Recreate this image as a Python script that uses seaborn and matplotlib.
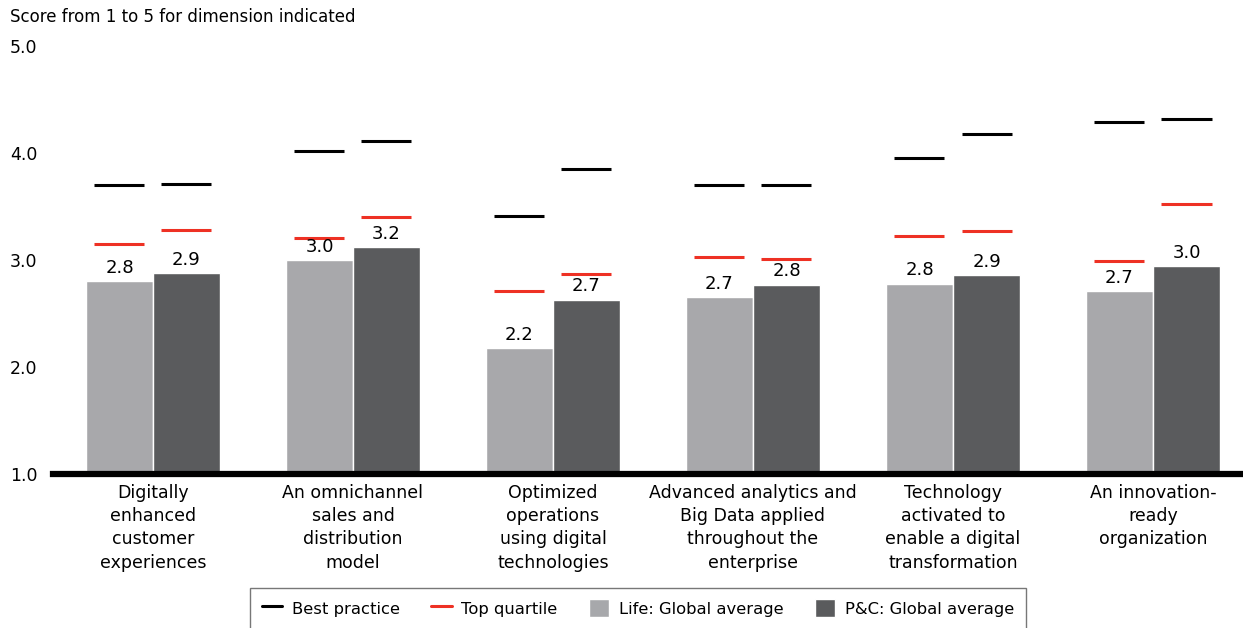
import numpy as np
import pandas as pd
import seaborn as sns
import matplotlib.pyplot as plt
from matplotlib.lines import Line2D
from matplotlib.patches import Patch

# data
categories = [
    "Digitally\nenhanced\ncustomer\nexperiences",
    "An omnichannel\nsales and\ndistribution\nmodel",
    "Optimized\noperations\nusing digital\ntechnologies",
    "Advanced analytics and\nBig Data applied\nthroughout the\nenterprise",
    "Technology\nactivated to\nenable a digital\ntransformation",
    "An innovation-\nready\norganization",
]
life_avg = [2.80, 3.00, 2.18, 2.65, 2.78, 2.71]
pc_avg = [2.88, 3.12, 2.63, 2.77, 2.86, 2.94]
life_labels = ["2.8", "3.0", "2.2", "2.7", "2.8", "2.7"]
pc_labels = ["2.9", "3.2", "2.7", "2.8", "2.9", "3.0"]
life_best = [3.70, 4.02, 3.41, 3.70, 3.95, 4.29]
pc_best = [3.71, 4.11, 3.85, 3.70, 4.18, 4.32]
life_top = [3.15, 3.21, 2.71, 3.03, 3.22, 2.99]
pc_top = [3.28, 3.40, 2.87, 3.01, 3.27, 3.52]
yticks = [1.0, 2.0, 3.0, 4.0, 5.0]

life_color = "#a7a8ab"
pc_color = "#5a5b5d"
red = "#ee3124"

df = pd.DataFrame({
    "category": categories * 2,
    "segment": ["Life: Global average"] * 6 + ["P&C: Global average"] * 6,
    "score": life_avg + pc_avg,
})

sns.set_style("white", {"text.color": "black", "xtick.color": "black",
                        "ytick.color": "black"})
plt.rcParams["font.family"] = ["DejaVu Sans"]

fig = plt.figure(figsize=(12.43, 6.28), dpi=100)
ax = fig.add_axes([53 / 1243, 154 / 628, 1 - 53 / 1243, 428 / 628])

sns.barplot(data=df, x="category", y="score", hue="segment",
            palette=[life_color, pc_color], width=0.67,
            edgecolor="white", linewidth=1, legend=False, ax=ax)

# value labels and best practice / top quartile marks on each bar
for container, labels, best, top in zip(ax.containers, [life_labels, pc_labels],
                                        [life_best, pc_best], [life_top, pc_top]):
    ax.bar_label(container, labels=labels, padding=3, fontsize=13, color="black")
    for bar, b, t in zip(container, best, top):
        cx = bar.get_x() + bar.get_width() / 2
        ax.hlines(b, cx - 0.125, cx + 0.125, color="black", lw=2.2)
        ax.hlines(t, cx - 0.125, cx + 0.125, color=red, lw=2.2)

ax.set_ylim(1, 5)
ax.set_xlim(-0.5, 5.45)
ax.set_yticks(yticks)
ax.set_yticklabels([f"{v:.1f}" for v in yticks])
ax.set_xlabel("")
ax.set_ylabel("")
for side in ["top", "right", "left"]:
    ax.spines[side].set_visible(False)
ax.spines["bottom"].set_linewidth(4.5)
ax.spines["bottom"].set_color("black")
ax.tick_params(axis="y", length=0, pad=31, labelsize=12.5)
for lbl in ax.get_yticklabels():
    lbl.set_ha("left")
ax.tick_params(axis="x", length=0, pad=7, labelsize=12.5)
for lbl in ax.get_xticklabels():
    lbl.set_linespacing(1.38)

fig.text(10 / 1243, 1 - 17 / 628, "Score from 1 to 5 for dimension indicated",
         va="center", ha="left", fontsize=12)

handles = [
    Line2D([0], [0], color="black", lw=2.2),
    Line2D([0], [0], color=red, lw=2.2),
    Patch(facecolor=life_color),
    Patch(facecolor=pc_color),
]
names = ["Best practice", "Top quartile", "Life: Global average", "P&C: Global average"]
leg = fig.legend(handles, names, loc="lower center", bbox_to_anchor=(638 / 1243, -0.014),
                 ncol=4, frameon=True, fancybox=False, edgecolor="#555555",
                 fontsize=11.8, handlelength=1.25, handleheight=1.3,
                 columnspacing=1.9, handletextpad=0.6, borderpad=0.7)
leg.get_frame().set_linewidth(1)

fig.savefig("out.png", dpi=100)
